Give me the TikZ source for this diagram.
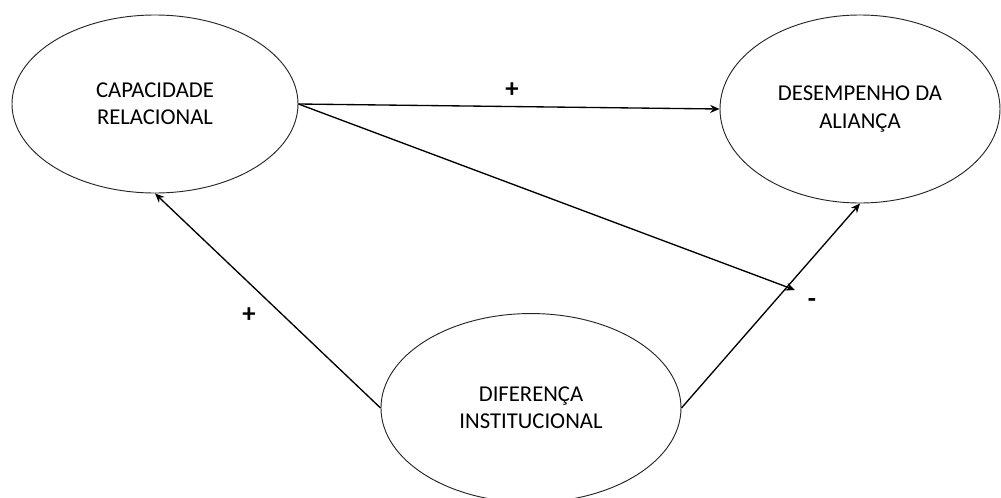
\documentclass[tikz,border=0pt]{standalone}
\usepackage{fontspec}
\setmainfont{Carlito}
\usepackage{tikz}
\usetikzlibrary{arrows.meta,shapes.geometric}

\tikzset{
  construct/.style={draw=black!85, line width=0.7pt, ellipse, inner sep=0pt,
    align=center, font=\fontsize{17}{20.5}\selectfont},
  path/.style={draw, line width=1pt, -{Stealth[length=7pt,width=6pt]}},
  sign/.style={font=\fontsize{20}{22}\selectfont\bfseries}
}

\begin{document}
\begin{tikzpicture}[x=0.75pt, y=-0.75pt]
    %% Background
    \useasboundingbox (0,0) rectangle (1001,497);

    %% Constructs
    \node[construct, minimum width=214.5pt, minimum height=133.5pt] (capacidade) at (155,104)
        {CAPACIDADE\\RELACIONAL};
    \node[construct, minimum width=210pt, minimum height=141pt] (desempenho) at (860,109)
        {DESEMPENHO DA\\ALIANÇA};
    \node[construct, minimum width=225pt, minimum height=141.7pt] (diferenca) at (531,408)
        {DIFERENÇA\\INSTITUCIONAL};

    %% Paths
    \coordinate (moderacao) at (795,290);
    \draw[path] (capacidade.east) to (desempenho.west);
    \draw[path] (capacidade.east) to (moderacao);
    \draw[path] (diferenca.east) to (desempenho.south);
    \draw[path] (diferenca.west) to (capacidade.south);

    %% Signs
    \node[sign] (s1) at (512,90) {+};
    \node[sign] (s2) at (812,303) {-};
    \node[sign] (s3) at (249,315) {+};
\end{tikzpicture}
\end{document}
